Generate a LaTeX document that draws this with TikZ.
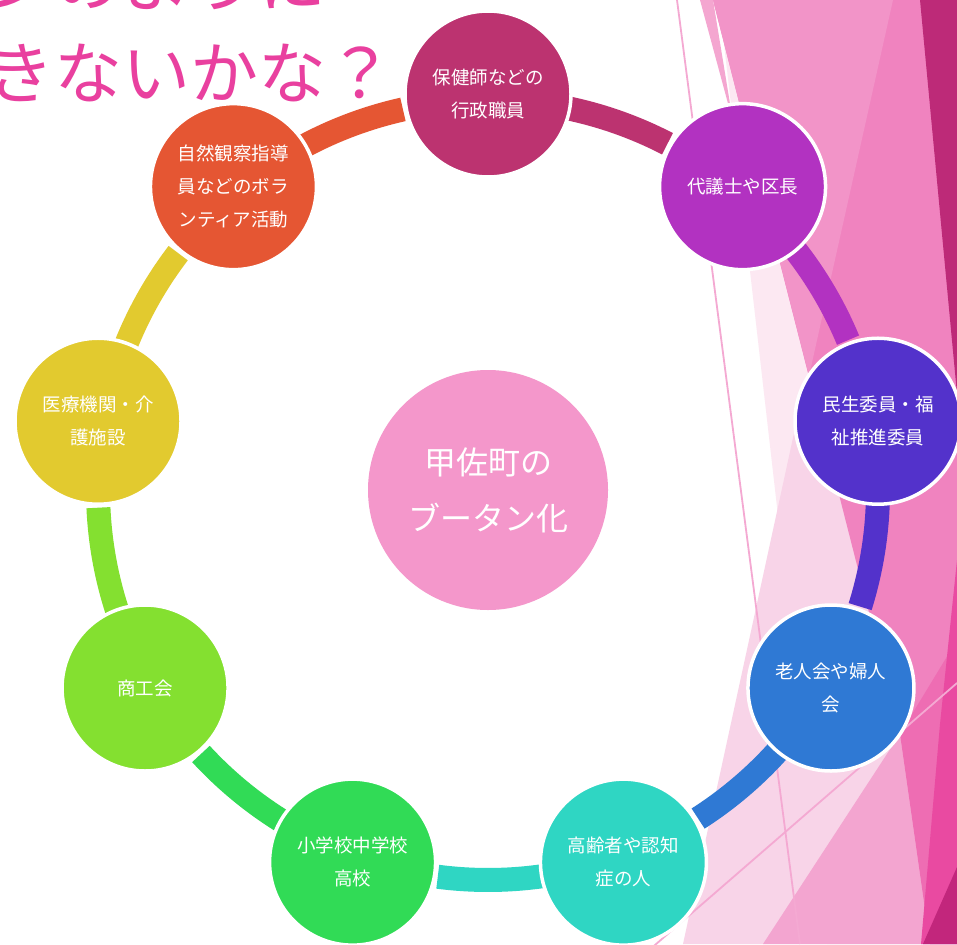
\documentclass[tikz,border=0pt]{standalone}
\usepackage{fontspec}
\newfontfamily\jp{Noto Sans CJK JP}
\usetikzlibrary{calc}
\definecolor{cA}{HTML}{BC3370}
\definecolor{cB}{HTML}{B232C1}
\definecolor{cC}{HTML}{5332CB}
\definecolor{cD}{HTML}{2F79D4}
\definecolor{cE}{HTML}{2FD6C3}
\definecolor{cF}{HTML}{31DB56}
\definecolor{cG}{HTML}{84E030}
\definecolor{cH}{HTML}{E2CA2F}
\definecolor{cI}{HTML}{E55633}
\definecolor{core}{HTML}{F497CB}
\definecolor{ttl}{HTML}{E9409F}
\definecolor{bgVL}{HTML}{FCE8F2}
\definecolor{bgDL}{HTML}{F8D4E8}
\definecolor{bgSA}{HTML}{F083BF}
\definecolor{bgSB}{HTML}{F294C8}
\definecolor{bgSL}{HTML}{F4A6D0}
\definecolor{bgM}{HTML}{F3A5D0}
\definecolor{bgN}{HTML}{EE6DB3}
\definecolor{bgH}{HTML}{E94AA1}
\definecolor{bgDm}{HTML}{C2267C}
\definecolor{bgT}{HTML}{BD2A78}
\definecolor{thin}{HTML}{F4A9D2}
\begin{document}
\begin{tikzpicture}[x=1pt,y=1pt,
  bub/.style={circle, minimum size=166pt, inner sep=0pt, draw=white, line width=3.5pt,
    text=white, font=\jp\fontsize{18.5}{33}\selectfont, align=center},
  hub/.style={circle, minimum size=240pt, inner sep=0pt, fill=core,
    text=white, font=\jp\fontsize{32}{56}\selectfont, align=center},
  band/.style={line width=24pt, line cap=butt},
  thinline/.style={draw=thin, line width=1.8pt},
  title/.style={text=ttl, font=\jp\fontsize{68}{88}\selectfont, inner sep=0pt}]
\useasboundingbox (0,0) rectangle (957,-944);
\clip (0,0) rectangle (957,-944);
\fill[white] (0,0) rectangle (957,-944);
% background facets
\fill[bgVL] (719,0) -- (957,0) -- (957,-944) -- (827,-944) -- cycle;
\fill[bgDL] (806,-378) -- (683,-944) -- (957,-944) -- (957,-378) -- cycle;
\fill[bgSA] (713,0) -- (957,0) -- (957,-944) -- (930,-944) -- (900,-734) -- cycle;
\fill[bgSB] (713,0) -- (893,0) -- (809,-376) -- cycle;
\fill[bgSL] (700,0) -- (713,0) -- (733,-122) -- cycle;
\fill[bgM] (763,-944) -- (900,-734) -- (930,-944) -- cycle;
\fill[bgN] (900,-734) -- (957,-640) -- (957,-944) -- (930,-944) -- cycle;
\fill[bgH] (957,-560) -- (940,-724) -- (921,-944) -- (957,-944) -- cycle;
\fill[bgDm] (923,-944) -- (957,-867) -- (957,-944) -- cycle;
\fill[bgT] (920,0) -- (957,0) -- (957,-394) -- cycle;
\coordinate (l1a) at (677,0);
\coordinate (l1b) at (800,-944);
\coordinate (l2a) at (640,-958);
\coordinate (l2b) at (957,-683);
\draw[thinline] (l1a) -- (l1b);
\draw[thinline] (l2a) -- (l2b);
% title (cut off at the top-left)
\node[title, anchor=base west] (t1) at (-14,-7) {ンのように};
\node[title, anchor=base west] (t2) at (-14,-99) {きないかな？};
% ring
\coordinate (ring) at (488,-490);
\foreach \k/\col in {0/cA,1/cB,2/cC,3/cD,4/cE,5/cF,6/cG,7/cH,8/cI}{
  \pgfmathsetmacro\s{90-40*\k-5}
  \pgfmathsetmacro\e{90-40*\k-27.4}
  \coordinate (arc\k) at ($(ring)+(\s:390pt)$);
  \draw[band, draw=\col] (arc\k) arc[start angle=\s, end angle=\e, radius=390pt];
}
\node[bub, fill=cA] (c0) at ($(ring)+(90:396pt)$) {保健師などの\\行政職員};
\node[bub, fill=cB] (c1) at ($(ring)+(50:396pt)$) {代議士や区長};
\node[bub, fill=cC] (c2) at ($(ring)+(10:396pt)$) {民生委員・福\\祉推進委員};
\node[bub, fill=cD] (c3) at ($(ring)+(-30:396pt)$) {老人会や婦人\\会};
\node[bub, fill=cE] (c4) at ($(ring)+(-70:396pt)$) {高齢者や認知\\症の人};
\node[bub, fill=cF] (c5) at ($(ring)+(-110:396pt)$) {小学校中学校\\高校};
\node[bub, fill=cG] (c6) at ($(ring)+(-150:396pt)$) {商工会};
\node[bub, fill=cH] (c7) at ($(ring)+(170:396pt)$) {医療機関・介\\護施設};
\node[bub, fill=cI] (c8) at ($(ring)+(130:396pt)$) {自然観察指導\\員などのボラ\\ンティア活動};
\node[hub] (hub) at (ring) {甲佐町の\\ブータン化};
\end{tikzpicture}
\end{document}
